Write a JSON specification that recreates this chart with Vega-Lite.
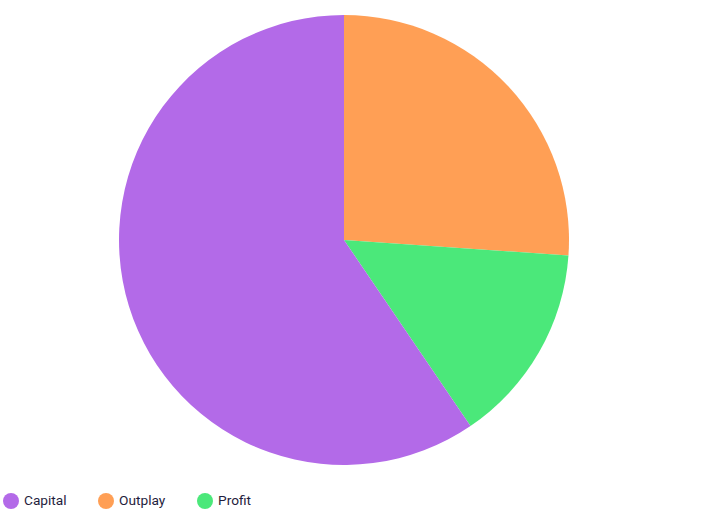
{
  "$schema": "https://vega.github.io/schema/vega-lite/v6.json",
  "width": 688,
  "height": 480,
  "padding": 0,
  "background": "white",
  "data": {
    "values": [
      {"name": "Outplay", "value": 26.1, "rank": 1},
      {"name": "Profit", "value": 14.4, "rank": 2},
      {"name": "Capital", "value": 59.5, "rank": 3}
    ]
  },
  "mark": {"type": "arc", "outerRadius": 225, "stroke": null},
  "encoding": {
    "theta": {"field": "value", "type": "quantitative", "stack": true},
    "order": {"field": "rank", "type": "quantitative"},
    "color": {
      "field": "name",
      "type": "nominal",
      "scale": {"domain": ["Capital", "Outplay", "Profit"], "range": ["#b36ae8", "#ff9f55", "#4be87a"]},
      "legend": {
        "title": null,
        "orient": "none",
        "legendX": 3,
        "legendY": 493,
        "direction": "horizontal",
        "symbolType": "circle",
        "symbolSize": 256,
        "symbolStrokeWidth": 0,
        "symbolOpacity": 1,
        "labelFont": "Roboto",
        "labelFontSize": 13.7,
        "labelColor": "#1f1d3d",
        "labelOffset": 5,
        "columnPadding": 31
      }
    }
  },
  "config": {"view": {"stroke": null}}
}
